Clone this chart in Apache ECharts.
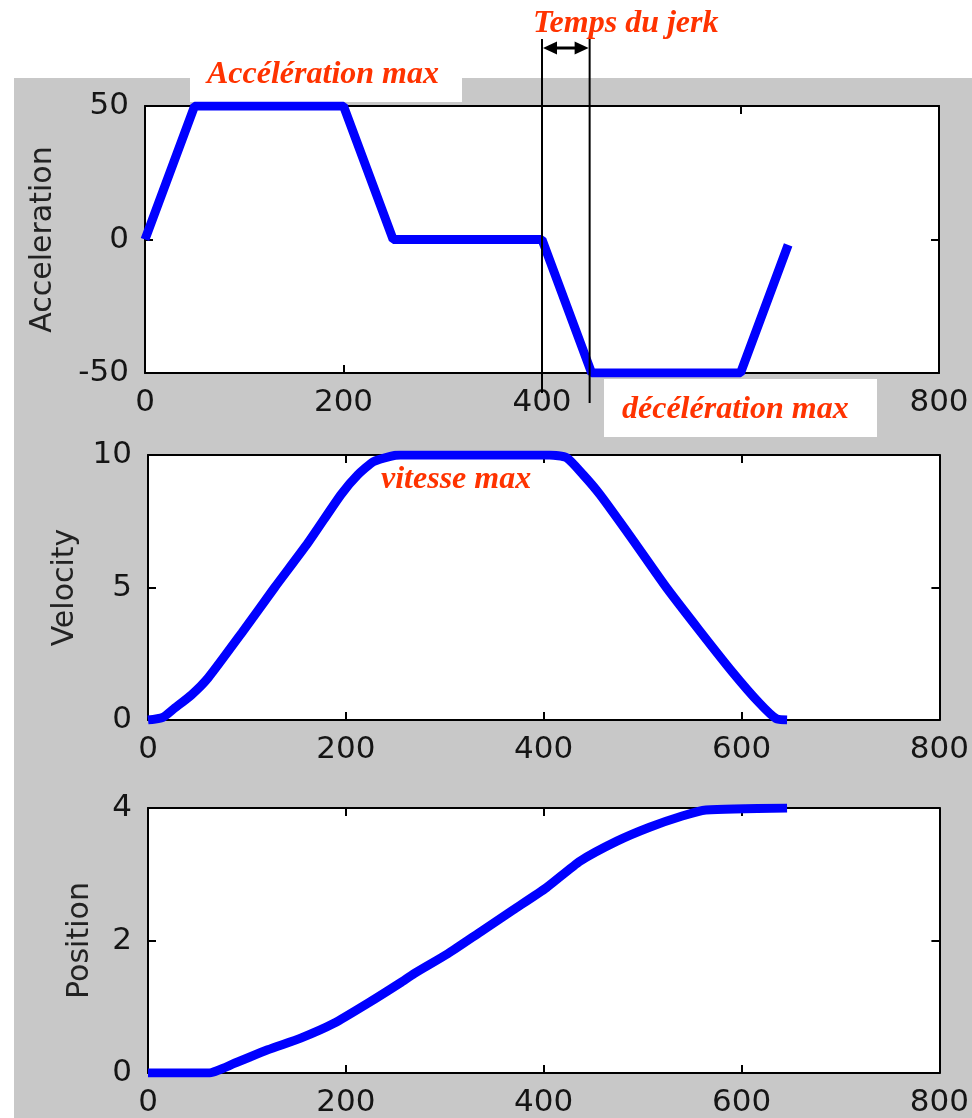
<!DOCTYPE html>
<html><head><meta charset="utf-8">
<script src="https://cdn.jsdelivr.net/npm/echarts@6/dist/echarts.min.js"></script>
<style>html,body{margin:0;padding:0;background:#fff}#c{width:972px;height:1118px}</style>
</head><body><div id="c"></div>
<script>
// ---- data ----
const xRange = [0, 800];
const xInterval = 200;

const accT = [0, 50, 200, 250, 400, 450, 600, 648];
const accV = [0, 50, 50, 0, 0, -50, -50, -2];

const velT = [0, 15, 27, 44, 61, 95, 128, 162, 195, 212, 228, 245, 255, 406, 423, 440, 457, 490, 524, 557, 591, 618, 635, 646];
const velV = [0, 0.1, 0.45, 0.95, 1.6, 3.3, 5.0, 6.7, 8.5, 9.25, 9.75, 9.95, 10, 10, 9.9, 9.25, 8.5, 6.8, 5.0, 3.4, 1.8, 0.64, 0.05, 0];

const posT = [0, 61, 88, 121, 155, 188, 222, 255, 269, 303, 336, 369, 403, 437, 474, 507, 540, 564, 646];
const posV = [0, 0, 0.15, 0.35, 0.53, 0.75, 1.05, 1.36, 1.5, 1.8, 2.13, 2.46, 2.8, 3.2, 3.5, 3.71, 3.88, 3.97, 4];

const yNames = ['Acceleration', 'Velocity', 'Position'];
const yRanges = [[-50, 50, 50], [0, 10, 5], [0, 4, 2]];
const jerkT = [400, 448];

const annoTexts = ['Temps du jerk', 'Accélération max', 'décélération max', 'vitesse max'];

// ---- layout ----
const grids = [
  {left: 145, top: 106, width: 794, height: 267},
  {left: 148, top: 455, width: 794, height: 265},
  {left: 148, top: 808, width: 795, height: 265}
];
const nameGaps = [87, 68, 53];
const smoothing = [0, 0.2, 0.2];
const labelFont = {fontSize: 31, fontFamily: 'DejaVu Sans', color: '#151515'};
const axLine = {show: true, onZero: false, lineStyle: {color: '#000', width: 2}};
const axTick = {show: true, inside: true, length: 8, lineStyle: {color: '#000', width: 2}};

const xAxes = [], yAxes = [], series = [];
const data = [[accT, accV], [velT, velV], [posT, posV]];
grids.forEach((g, i) => {
  xAxes.push({type: 'value', gridIndex: i, position: 'bottom', min: xRange[0], max: xRange[1], interval: xInterval,
    axisLine: axLine, axisTick: axTick, splitLine: {show: false},
    axisLabel: Object.assign({margin: 14}, labelFont)});
  xAxes.push({type: 'value', gridIndex: i, position: 'top', min: xRange[0], max: xRange[1], interval: xInterval,
    axisLine: axLine, axisTick: axTick, splitLine: {show: false}, axisLabel: {show: false}});
  const r = yRanges[i];
  yAxes.push({type: 'value', gridIndex: i, position: 'left', min: r[0], max: r[1], interval: r[2],
    axisLine: axLine, axisTick: axTick, splitLine: {show: false},
    axisLabel: Object.assign({margin: 16}, labelFont),
    name: yNames[i], nameLocation: 'middle', nameGap: nameGaps[i],
    nameTextStyle: {fontSize: 30, fontFamily: 'DejaVu Sans', color: '#222'}});
  yAxes.push({type: 'value', gridIndex: i, position: 'right', min: r[0], max: r[1], interval: r[2],
    axisLine: axLine, axisTick: axTick, splitLine: {show: false}, axisLabel: {show: false}});
  const d = data[i];
  series.push({type: 'line', xAxisIndex: i * 2, yAxisIndex: i * 2, showSymbol: false, symbol: 'none',
    smooth: smoothing[i],
    data: d[0].map((t, k) => [t, d[1][k]]), lineStyle: {color: '#0000ff', width: 9}, itemStyle: {color: '#0000ff'},
    animation: false});
});

const chart = echarts.init(document.getElementById('c'), null, {renderer: 'canvas'});
const gridOpts = grids.map(g => Object.assign({show: true, backgroundColor: '#fff', borderWidth: 0}, g));
chart.setOption({
  animation: false,
  backgroundColor: '#fff',
  grid: gridOpts,
  xAxis: xAxes,
  yAxis: yAxes,
  series: series
});

const jx = jerkT.map(t => chart.convertToPixel({xAxisIndex: 0}, t));
const annoFont = 'italic bold 32px "Liberation Serif", "Times New Roman", serif';
const red = '#ff3300';
const ay = 48;
chart.setOption({
  graphic: {elements: [
    {type: 'rect', z: -100, shape: {x: 14, y: 78, width: 958, height: 1040}, style: {fill: '#c8c8c8'}},
    {type: 'rect', z: -50, shape: {x: 190, y: 60, width: 272, height: 42}, style: {fill: '#fff'}},
    {type: 'rect', z: 100, shape: {x: 604, y: 379, width: 273, height: 58}, style: {fill: '#fff'}},
    {type: 'line', z: 110, shape: {x1: jx[0], y1: 39, x2: jx[0], y2: 393}, style: {stroke: '#000', lineWidth: 2}},
    {type: 'line', z: 110, shape: {x1: jx[1], y1: 39, x2: jx[1], y2: 403}, style: {stroke: '#000', lineWidth: 2}},
    {type: 'line', z: 110, shape: {x1: jx[0] + 10, y1: ay, x2: jx[1] - 10, y2: ay}, style: {stroke: '#000', lineWidth: 3}},
    {type: 'polygon', z: 110, shape: {points: [[jx[0] + 1, ay], [jx[0] + 15, ay - 6.5], [jx[0] + 15, ay + 6.5]]}, style: {fill: '#000'}},
    {type: 'polygon', z: 110, shape: {points: [[jx[1] - 1, ay], [jx[1] - 15, ay - 6.5], [jx[1] - 15, ay + 6.5]]}, style: {fill: '#000'}},
    {type: 'text', z: 120, style: {text: annoTexts[0], x: 533, y: 24, verticalAlign: 'middle', font: annoFont, fill: red}},
    {type: 'text', z: 120, style: {text: annoTexts[1], x: 207, y: 75, verticalAlign: 'middle', font: annoFont, fill: red}},
    {type: 'text', z: 120, style: {text: annoTexts[2], x: 622, y: 410, verticalAlign: 'middle', font: annoFont, fill: red}},
    {type: 'text', z: 120, style: {text: annoTexts[3], x: 381, y: 480, verticalAlign: 'middle', font: annoFont, fill: red}}
  ]}
});
</script></body></html>
